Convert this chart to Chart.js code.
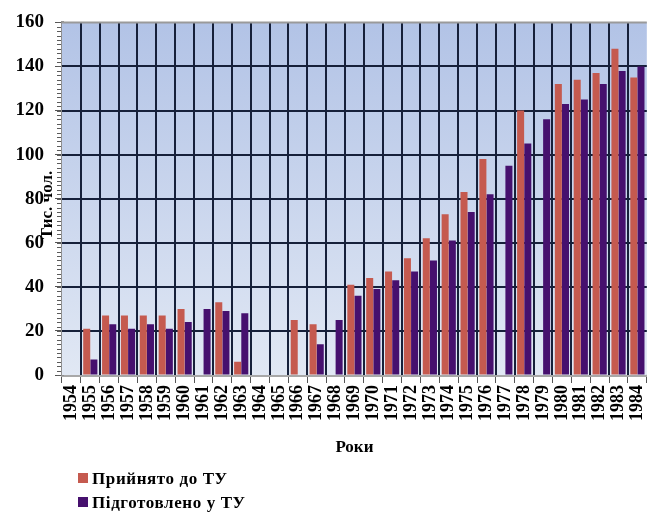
<!DOCTYPE html>
<html>
<head>
<meta charset="utf-8">
<script src="https://cdn.jsdelivr.net/npm/chart.js@4.4.1/dist/chart.umd.min.js"></script>
<style>
    html, body { margin: 0; padding: 0; background: #fff; }
    #wrap { position: relative; width: 661px; height: 515px; }
    #legend { position: absolute; left: 78px; top: 467px; font: bold 17px "Liberation Serif", serif; color: #000; letter-spacing: 0.6px; }
    #legend div { height: 24px; line-height: 24px; white-space: nowrap; }
    #legend span.box { display: inline-block; width: 10px; height: 10px; margin-right: 4px; vertical-align: 1px; }
</style>
</head>
<body>
<div id="wrap">
    <canvas id="chart" width="661" height="515"></canvas>
    <div id="legend"></div>
</div>
<script>
// роки
const years = ['1954', '1955', '1956', '1957', '1958', '1959', '1960', '1961', '1962', '1963',
    '1964', '1965', '1966', '1967', '1968', '1969', '1970', '1971', '1972', '1973',
    '1974', '1975', '1976', '1977', '1978', '1979', '1980', '1981', '1982', '1983', '1984']

// тис. чол.
const admitted = [0, 21, 27, 27, 27, 27, 30, 0, 33, 6,
    0, 0, 25, 23, 0, 41, 44, 47, 53, 62,
    73, 83, 98, 0, 120, 0, 132, 134, 137, 148, 135]
const trained = [0, 7, 23, 21, 23, 21, 24, 30, 29, 28,
    0, 0, 0, 14, 25, 36, 39, 43, 47, 52,
    61, 74, 82, 95, 105, 116, 123, 125, 132, 138, 140]

const seriesNames = ['Прийнято до ТУ', 'Підготовлено у ТУ']
const seriesColors = ['#c55a4f', '#46106e']

const yTicks = [0, 20, 40, 60, 80, 100, 120, 140, 160]

const serif = '"Liberation Serif", "Times New Roman", serif'
const gridColor = '#16203a'

// фон, сітка, дрібні поділки осі, підпис осі Y
const plotDecor = {
    id: 'plotDecor',
    beforeDatasetsDraw(chart) {
        const {ctx, chartArea} = chart
        const {left, right, top, bottom} = chartArea
        const g = ctx.createLinearGradient(0, top, 0, bottom)
        g.addColorStop(0, '#b2c3e6')
        g.addColorStop(1, '#e1e8f4')
        ctx.save()
        ctx.fillStyle = g
        ctx.fillRect(left, top, right - left, bottom - top)

        ctx.strokeStyle = gridColor
        ctx.lineWidth = 2
        const x = chart.scales.x
        for (let i = 1; i < years.length; i++) {
            const px = Math.round((x.getPixelForTick(i - 1) + x.getPixelForTick(i)) / 2)
            ctx.beginPath()
            ctx.moveTo(px, top)
            ctx.lineTo(px, bottom)
            ctx.stroke()
        }
        const y = chart.scales.y
        yTicks.forEach(v => {
            if (v === 0 || v === 160) return
            const py = Math.round(y.getPixelForValue(v))
            ctx.beginPath()
            ctx.moveTo(left, py)
            ctx.lineTo(right, py)
            ctx.stroke()
        })
        ctx.strokeStyle = '#9a9a9a'
        ctx.beginPath()
        ctx.moveTo(left, top)
        ctx.lineTo(right, top)
        ctx.stroke()
        ctx.restore()
    },
    afterDraw(chart) {
        const {ctx, chartArea} = chart
        const y = chart.scales.y
        ctx.save()
        ctx.strokeStyle = '#5a5a5a'
        ctx.lineWidth = 1
        for (let v = 0; v <= 160; v += 2) {
            const py = Math.round(y.getPixelForValue(v)) + 0.5
            ctx.beginPath()
            ctx.moveTo(chartArea.left - 5, py)
            ctx.lineTo(chartArea.left - 1, py)
            ctx.stroke()
        }
        ctx.translate(48, 205)
        ctx.rotate(-Math.PI / 2)
        ctx.fillStyle = '#000'
        ctx.font = 'bold 17px ' + serif
        ctx.textAlign = 'center'
        ctx.textBaseline = 'middle'
        ctx.fillText('Тис. чол.', 0, 0)
        ctx.restore()
    }
}

const chart = new Chart(document.getElementById('chart'), {
    type: 'bar',
    data: {
        labels: years,
        datasets: [{
            label: seriesNames[0],
            data: admitted,
            backgroundColor: seriesColors[0],
            categoryPercentage: 0.76,
            barPercentage: 0.98
        }, {
            label: seriesNames[1],
            data: trained,
            backgroundColor: seriesColors[1],
            categoryPercentage: 0.76,
            barPercentage: 0.98
        }]
    },
    options: {
        responsive: false,
        animation: false,
        layout: {
            padding: {left: 0, right: 1, top: 17, bottom: 55}
        },
        plugins: {
            legend: {display: false},
            tooltip: {enabled: false}
        },
        scales: {
            x: {
                grid: {
                    offset: true,
                    drawOnChartArea: false,
                    tickColor: '#555',
                    tickLength: 8,
                    tickWidth: 1
                },
                border: {color: '#a8a8a8', width: 3},
                ticks: {
                    autoSkip: false,
                    minRotation: 90,
                    maxRotation: 90,
                    padding: 2,
                    color: '#000',
                    font: {family: serif, size: 18, weight: 'bold'}
                },
                title: {
                    display: true,
                    text: 'Роки',
                    color: '#000',
                    font: {family: serif, size: 17, weight: 'bold'},
                    padding: {top: 0, bottom: 2}
                },
                afterFit(scale) {
                    scale.height = 85
                }
            },
            y: {
                min: 0,
                max: 160,
                afterBuildTicks(scale) {
                    scale.ticks = yTicks.map(v => ({value: v}))
                },
                grid: {
                    drawOnChartArea: false,
                    tickColor: '#555',
                    tickLength: 7
                },
                border: {color: '#8f8f8f', width: 3},
                ticks: {
                    padding: 11,
                    color: '#000',
                    font: {family: serif, size: 19, weight: 'bold'}
                },
                afterFit(scale) {
                    scale.width = 62
                }
            }
        }
    },
    plugins: [plotDecor]
})

// легенда у два рядки, як в оригіналі
const legend = document.getElementById('legend')
chart.data.datasets.forEach(ds => {
    const row = document.createElement('div')
    const box = document.createElement('span')
    box.className = 'box'
    box.style.background = ds.backgroundColor
    row.appendChild(box)
    row.appendChild(document.createTextNode(ds.label))
    legend.appendChild(row)
})
</script>
</body>
</html>
